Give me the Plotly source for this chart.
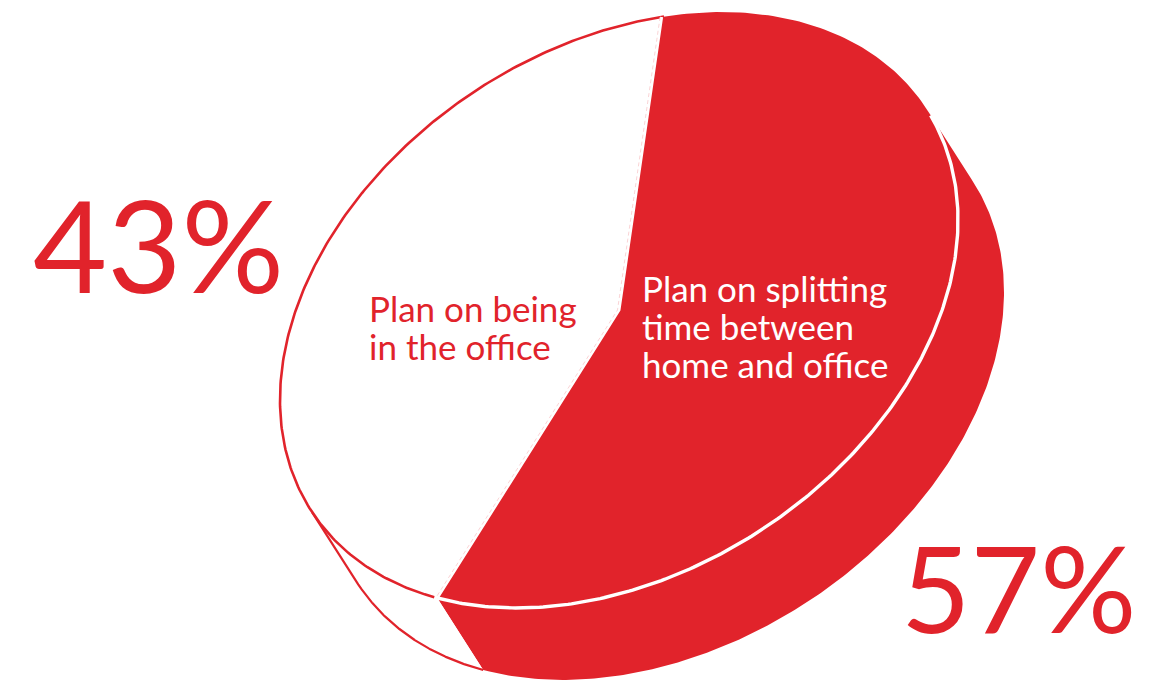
import numpy as np
import plotly.graph_objects as go

# --- data ---
shares = [43, 57]
office_lines = ["Plan on being", "in the office"]
split_lines = ["Plan on splitting", "time between", "home and office"]
RED = "#E1232B"
WHITE = "#FFFFFF"
PINK = "#F9C9CC"

# --- geometry of the tilted disc, in canvas pixels ---
CX, CY = 619.0, 310.0
A, B = 367.5, 262.0
TILT = np.radians(33.4)
START = 57.6              # parameter angle where the first slice begins
DX, DY = 46.0, 72.0       # extrusion offset


def ell(t_deg, dx=0.0, dy=0.0):
    t = np.radians(np.asarray(t_deg, dtype=float))
    u, v = A * np.cos(t), B * np.sin(t)
    x = CX + u * np.cos(TILT) - v * np.sin(TILT) + dx
    y = CY - (u * np.sin(TILT) + v * np.cos(TILT)) + dy
    return x, y


def arc(a, b, n=240):
    return np.linspace(a, b, n)


split = START + 360.0 * shares[0] / sum(shares)
end = START + 360.0

fig = go.Figure()


def poly(x, y, fill=None, line=None, width=0, dash=None):
    fig.add_trace(go.Scatter(
        x=x, y=y, mode="lines",
        fill="toself" if fill else None,
        fillcolor=fill,
        line=dict(color=line if line else "rgba(0,0,0,0)", width=width, dash=dash),
        hoverinfo="skip", showlegend=False,
    ))


# side wall: red part
x1, y1 = ell(arc(split, 360))
x2, y2 = ell(arc(360, split), DX, DY)
poly(np.r_[x1, x2], np.r_[y1, y2], fill=RED)

# side wall: white part with red outline
x1, y1 = ell(arc(180, split))
x2, y2 = ell(arc(split, 180), DX, DY)
poly(np.r_[x1, x2], np.r_[y1, y2], fill=WHITE)
lx, ly = ell(arc(split, 180), DX, DY)
ex, ey = ell([180])
poly(np.r_[lx, ex], np.r_[ly, ey], line=RED, width=2.2)

# top: first slice (white, red rim)
ax, ay = ell(arc(START, split))
poly(np.r_[CX, ax, CX], np.r_[CY, ay, CY], fill=WHITE)
rimx, rimy = ell(arc(START - 0.4, split - 0.6))
poly(rimx, rimy, line=RED, width=2.6)

# top: second slice (red, white rim over the wall)
ax, ay = ell(arc(split, end))
poly(np.r_[CX, ax, CX], np.r_[CY, ay, CY], fill=RED)
rx, ry = ell(arc(split, 358))
poly(rx, ry, line=WHITE, width=3.4)

# seams between the slices
sx0, sy0 = ell([START])
sx1, sy1 = ell([split])
seam_x = np.r_[sx0, CX, sx1]
seam_y = np.r_[sy0, CY, sy1]
poly(seam_x, seam_y, line=WHITE, width=3)
poly(seam_x - 1.5, seam_y, line=PINK, width=0.8, dash="4px,3px")

# texts
big = [(158, 243, shares[0], 128), (1018, 587, shares[1], 120)]
for x, y, v, s in big:
    fig.add_annotation(
        x=x, y=y, xref="x", yref="y", text=f"{v}%", showarrow=False,
        font=dict(family="Lato", size=s, color=RED),
    )
for lines, x, y0, colour in [(office_lines, 367, 308, RED), (split_lines, 640, 288, WHITE)]:
    for i, line in enumerate(lines):
        fig.add_annotation(
            x=x, y=y0 + 38 * i, xref="x", yref="y", text=line, showarrow=False,
            xanchor="left", yanchor="middle",
            font=dict(family="Lato", size=35, color=colour),
        )

fig.update_layout(
    width=1157, height=682, autosize=False,
    margin=dict(l=0, r=0, t=0, b=0),
    paper_bgcolor=WHITE, plot_bgcolor=WHITE,
    xaxis=dict(range=[0, 1157], visible=False, fixedrange=True),
    yaxis=dict(range=[682, 0], visible=False, fixedrange=True),
    showlegend=False,
)
fig.write_html("out.html", config={"displayModeBar": False},
               post_script="document.body.style.margin='0';document.body.style.overflow='hidden';")
